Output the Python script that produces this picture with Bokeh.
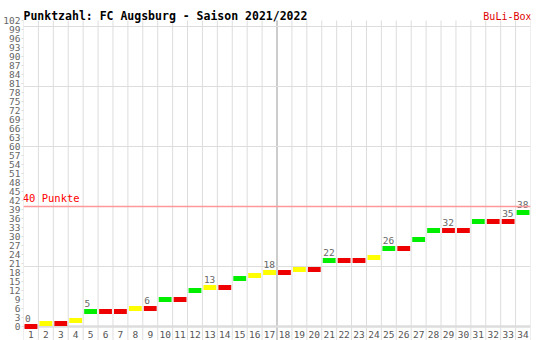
from bokeh.plotting import figure
from bokeh.models import (ColumnDataSource, FixedTicker, Span, Label, LinearAxis, Range1d)
from bokeh.core.properties import value
from bokeh.embed import file_html
from bokeh.resources import INLINE

# ---- data ----
matchdays = list(range(1, 35))
points = [0, 1, 1, 2, 5, 5, 5, 6, 6, 9, 9, 12, 13, 13, 16, 17, 18,
          18, 19, 19, 22, 22, 22, 23, 26, 26, 29, 32, 32, 32, 35, 35, 35, 38]
results = ["N", "U", "N", "U", "S", "N", "N", "U", "N", "S", "N", "S", "U", "N", "S", "U", "U",
           "N", "U", "N", "S", "N", "N", "U", "S", "N", "S", "S", "N", "N", "S", "N", "N", "S"]
label_days = [1, 5, 9, 13, 17, 21, 25, 29, 33, 34]
y_ticks = list(range(0, 103, 3))
title_text = "Punktzahl: FC Augsburg - Saison 2021/2022"
brand_text = "BuLi-Box"
target_points = 40
target_text = "40 Punkte"
half_season = 17

color_map = {"S": "#00ee00", "U": "#ffff00", "N": "#ee0000"}
FONT = "DejaVu Sans Mono"
Y_MAX = 102
Y_MIN = -14 / 3

src = ColumnDataSource(dict(md=matchdays, pts=points,
                            color=[color_map[r] for r in results]))
lab_src = ColumnDataSource(dict(md=label_days,
                                pts=[points[d - 1] for d in label_days],
                                txt=[str(points[d - 1]) for d in label_days]))
x_src = ColumnDataSource(dict(md=matchdays, y=[0] * len(matchdays),
                              txt=[str(m) for m in matchdays]))
vlines = [m - 0.5 for m in matchdays] + [matchdays[-1] + 0.5]
vgrid_src = ColumnDataSource(dict(x=vlines, y0=[Y_MIN] * len(vlines), y1=[Y_MAX] * len(vlines)))

p = figure(width=551, height=340, output_backend="svg", toolbar_location=None,
           x_range=Range1d(0.5, 34.5), y_range=Range1d(Y_MIN, Y_MAX + 20 / 3),
           x_axis_location=None, y_axis_location=None,
           min_border_left=20, min_border_right=21, min_border_top=0, min_border_bottom=0)
p.outline_line_color = None
p.background_fill_color = "white"
p.border_fill_color = "white"
# remove default grids (auto ticker) – custom ones are drawn below
p.xgrid.visible = False

yaxis = LinearAxis(ticker=FixedTicker(ticks=y_ticks))
yaxis.axis_line_color = None
yaxis.major_tick_line_color = "#dddddd"
yaxis.major_tick_out = 2
yaxis.major_tick_in = 0
yaxis.minor_tick_line_color = None
yaxis.major_label_standoff = 1
yaxis.major_label_text_font = FONT
yaxis.major_label_text_font_size = "9.5px"
yaxis.major_label_text_color = "#666666"
p.add_layout(yaxis, "left")
p.ygrid.grid_line_color = "#dddddd"

p.segment(x0="x", y0="y0", x1="x", y1="y1", source=vgrid_src, line_color="#dddddd",
          line_width=1, level="underlay")
p.segment(x0=[half_season + 0.5], y0=[Y_MIN], x1=[half_season + 0.5], y1=[Y_MAX],
          line_color="#cccccc", line_width=2, level="underlay")

p.add_layout(Span(location=0, dimension="width", line_color="#dddddd", line_width=2.5, level="underlay"))

p.add_layout(Span(location=target_points, dimension="width", line_color="#ff9999", line_width=1.5))
p.add_layout(Label(x=0.45, y=target_points, y_offset=3, text=target_text, text_color="#ff0000",
                   text_font=FONT, text_font_size="10.5px"))

p.rect(x="md", y="pts", width=0.86, height=5, height_units="screen",
       fill_color="color", line_color=None, source=src)

p.text(x="md", y="pts", text="txt", source=lab_src, x_offset=-6, y_offset=-5,
       text_font=value(FONT), text_font_size="9.5px", text_color="#666666",
       text_align="left", text_baseline="bottom")

p.text(x="md", y="y", text="txt", source=x_src, y_offset=8,
       text_font=value(FONT), text_font_size="9.5px", text_color="#555555",
       text_align="center", text_baseline="middle")

p.add_layout(Label(x=0, y=325, x_units="screen", y_units="screen", text=title_text,
                   text_font=FONT, text_font_size="11.5px", text_font_style="bold",
                   text_color="#000000", text_baseline="alphabetic"))
p.add_layout(Label(x=508, y=324, x_units="screen", y_units="screen", text=brand_text,
                   text_font=FONT, text_font_size="10px", text_align="right",
                   text_color="#dd0000", text_baseline="alphabetic"))

open("out.html", "w").write(file_html(p, INLINE))
